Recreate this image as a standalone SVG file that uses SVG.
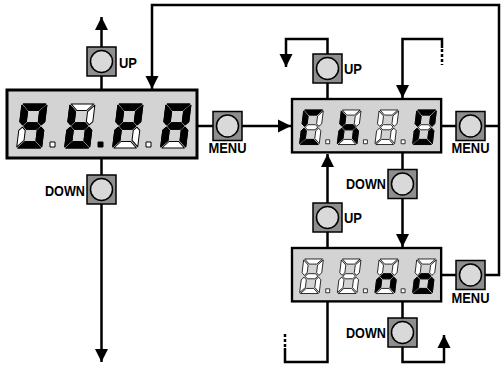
<svg xmlns="http://www.w3.org/2000/svg" xmlns:xlink="http://www.w3.org/1999/xlink" width="501" height="369" viewBox="0 0 501 369">
<style>
.box{fill:#d3d3d3;stroke:#000;stroke-width:3}
.btn{fill:#8e8e8e;stroke:#000;stroke-width:1.5}
.knob{fill:#d9d9d9;stroke:#000;stroke-width:1.5}
.ln{fill:none;stroke:#000;stroke-width:2.5}
.dash{fill:none;stroke:#000;stroke-width:2.5;stroke-dasharray:3 2}
.on{fill:#000;stroke:#000;stroke-width:1;stroke-linejoin:round}
.off{fill:#fff;stroke:#000;stroke-width:1;stroke-linejoin:round}
.lbl{font-family:"Liberation Sans",Arial,sans-serif;font-weight:bold;font-size:14px;fill:#000}
</style>
<defs>
<path id="sa" d="M1.2,0 H23.8 L17.3,6.5 H7.7 Z"/>
<path id="sf" d="M0,1.2 L6.5,7.7 V17.55 L3.25,20.8 L0,17.55 Z"/>
<path id="sb" d="M25,1.2 L18.5,7.7 V17.55 L21.75,20.8 L25,17.55 Z"/>
<path id="sg" d="M4.45,22 L7.7,18.75 H17.3 L20.55,22 L17.3,25.25 H7.7 Z"/>
<path id="se" d="M0,42.8 L6.5,36.3 V26.45 L3.25,23.2 L0,26.45 Z"/>
<path id="sc" d="M25,42.8 L18.5,36.3 V26.45 L21.75,23.2 L25,26.45 Z"/>
<path id="sd" d="M1.2,44 H23.8 L17.3,37.5 H7.7 Z"/>
<rect id="dot" width="5" height="5"/>
<g id="d8">
<use href="#sa" class="off"/><use href="#sb" class="off"/><use href="#sc" class="off"/><use href="#sd" class="off"/><use href="#se" class="off"/><use href="#sf" class="off"/><use href="#sg" class="off"/>
</g>
<marker id="arr" markerUnits="userSpaceOnUse" markerWidth="14" markerHeight="14" viewBox="0 0 14 14" refX="13" refY="7" orient="auto">
<path d="M0,0.5 L13,7 L0,13.5 Z" fill="#000"/>
</marker>
<g id="button"><rect class="btn" x="0" y="0" width="29" height="29"/><circle class="knob" cx="14.5" cy="14.5" r="11"/></g>
</defs>

<g id="connectors">
<path class="ln" d="M101.5,47 V17" marker-end="url(#arr)"/>
<path class="ln" d="M101.5,76 V90"/>
<path class="ln" d="M101.5,158 V175"/>
<path class="ln" d="M101.5,204 V362" marker-end="url(#arr)"/>
<path class="ln" d="M484,275 H499 V5 H152 V89" marker-end="url(#arr)"/>
<path class="ln" d="M197,126 H213"/>
<path class="ln" d="M242,126 H291" marker-end="url(#arr)"/>
<path class="ln" d="M327.5,99 V83"/>
<path class="ln" d="M327.5,54 V39 H286 V67" marker-end="url(#arr)"/>
<path class="ln" d="M442,48 V39 H402.5 V98" marker-end="url(#arr)"/>
<path class="dash" d="M442,49 V65"/>
<path class="ln" d="M441,126 H456"/>
<path class="ln" d="M485,126 H499"/>
<path class="ln" d="M402.5,153 V170"/>
<path class="ln" d="M402.5,198 V247" marker-end="url(#arr)"/>
<path class="ln" d="M327.5,248 V232"/>
<path class="ln" d="M327.5,203 V154" marker-end="url(#arr)"/>
<path class="ln" d="M442,275 H456"/>
<path class="ln" d="M402.5,302 V318"/>
<path class="ln" d="M402.5,347 V362 H444 V335" marker-end="url(#arr)"/>
<path class="ln" d="M327.5,302 V362 H285 V348"/>
<path class="dash" d="M285,347 V332"/>
</g>

<g id="display1" transform="translate(7,90)">
<rect class="box" x="0" y="0" width="190" height="68"/>
<g transform="translate(15,14) skewX(-7)"><use href="#d8"/><use href="#sa" class="on"/><use href="#sb" class="on"/><use href="#sc" class="on"/><use href="#sd" class="on"/><use href="#sf" class="on"/><use href="#sg" class="on"/></g>
<use href="#dot" class="off" x="43" y="52"/>
<g transform="translate(63,14) skewX(-7)"><use href="#d8"/><use href="#sf" class="on"/><use href="#se" class="on"/><use href="#sg" class="on"/><use href="#sc" class="on"/><use href="#sd" class="on"/></g>
<use href="#dot" class="on" x="91" y="52"/>
<g transform="translate(111,14) skewX(-7)"><use href="#d8"/><use href="#sa" class="on"/><use href="#sb" class="on"/><use href="#sf" class="on"/><use href="#sg" class="on"/><use href="#se" class="on"/></g>
<use href="#dot" class="off" x="139" y="52"/>
<g transform="translate(159,14) skewX(-7)"><use href="#d8"/><use href="#sa" class="on"/><use href="#sb" class="on"/><use href="#sc" class="on"/><use href="#se" class="on"/><use href="#sf" class="on"/><use href="#sg" class="on"/></g>
</g>

<g id="display2" transform="translate(292,99) scale(0.785)">
<rect class="box" x="0" y="0" width="190" height="68"/>
<g transform="translate(15,14) skewX(-7)"><use href="#d8"/><use href="#sa" class="on"/><use href="#sf" class="on"/><use href="#se" class="on"/><use href="#sd" class="on"/></g>
<use href="#dot" class="off" x="43" y="52"/>
<g transform="translate(63,14) skewX(-7)"><use href="#d8"/><use href="#sf" class="on"/><use href="#se" class="on"/><use href="#sg" class="on"/><use href="#sc" class="on"/></g>
<use href="#dot" class="off" x="91" y="52"/>
<g transform="translate(111,14) skewX(-7)"><use href="#d8"/></g>
<use href="#dot" class="off" x="139" y="52"/>
<g transform="translate(159,14) skewX(-7)"><use href="#d8"/><use href="#sa" class="on"/><use href="#sb" class="on"/><use href="#sc" class="on"/><use href="#sd" class="on"/><use href="#se" class="on"/><use href="#sf" class="on"/></g>
</g>

<g id="display3" transform="translate(292,248) scale(0.785)">
<rect class="box" x="0" y="0" width="190" height="68"/>
<g transform="translate(15,14) skewX(-7)"><use href="#d8"/></g>
<use href="#dot" class="off" x="43" y="52"/>
<g transform="translate(63,14) skewX(-7)"><use href="#d8"/></g>
<use href="#dot" class="off" x="91" y="52"/>
<g transform="translate(111,14) skewX(-7)"><use href="#d8"/><use href="#se" class="on"/><use href="#sg" class="on"/><use href="#sc" class="on"/></g>
<use href="#dot" class="off" x="139" y="52"/>
<g transform="translate(159,14) skewX(-7)"><use href="#d8"/><use href="#sc" class="on"/><use href="#sd" class="on"/><use href="#se" class="on"/><use href="#sg" class="on"/></g>
</g>

<g id="btn-up1"><use href="#button" x="87" y="47"/><text class="lbl" x="119" y="68" textLength="18" lengthAdjust="spacingAndGlyphs">UP</text></g>
<g id="btn-down1"><use href="#button" x="87" y="175"/><text class="lbl" x="85" y="196" text-anchor="end" textLength="40" lengthAdjust="spacingAndGlyphs">DOWN</text></g>
<g id="btn-menu1"><use href="#button" x="213" y="111.5"/><text class="lbl" x="227.5" y="153" text-anchor="middle" textLength="38" lengthAdjust="spacingAndGlyphs">MENU</text></g>
<g id="btn-up2"><use href="#button" x="313" y="54"/><text class="lbl" x="344" y="74" textLength="18" lengthAdjust="spacingAndGlyphs">UP</text></g>
<g id="btn-menu2"><use href="#button" x="456" y="111.5"/><text class="lbl" x="470.5" y="153" text-anchor="middle" textLength="38" lengthAdjust="spacingAndGlyphs">MENU</text></g>
<g id="btn-down2"><use href="#button" x="388" y="169.5"/><text class="lbl" x="386" y="189" text-anchor="end" textLength="40" lengthAdjust="spacingAndGlyphs">DOWN</text></g>
<g id="btn-up3"><use href="#button" x="313" y="203"/><text class="lbl" x="344" y="223" textLength="18" lengthAdjust="spacingAndGlyphs">UP</text></g>
<g id="btn-menu3"><use href="#button" x="456" y="260.5"/><text class="lbl" x="470.5" y="303" text-anchor="middle" textLength="38" lengthAdjust="spacingAndGlyphs">MENU</text></g>
<g id="btn-down3"><use href="#button" x="388" y="318"/><text class="lbl" x="386" y="338" text-anchor="end" textLength="40" lengthAdjust="spacingAndGlyphs">DOWN</text></g>
</svg>
